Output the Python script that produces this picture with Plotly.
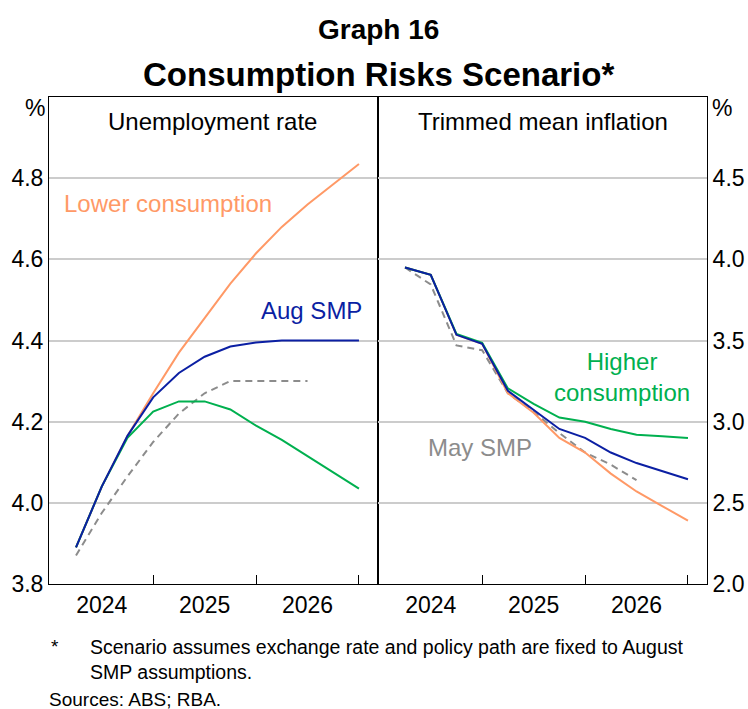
import plotly.graph_objects as go
from plotly.subplots import make_subplots

# quarters since start of 2024 (1 = Mar 2024 ... 12 = Dec 2026)
quarters = list(range(1, 13))

# Unemployment rate, %
unemp_aug_smp = [3.89, 4.04, 4.165, 4.26, 4.32, 4.36, 4.385, 4.395, 4.40, 4.40, 4.40, 4.40]
unemp_higher = [3.89, 4.04, 4.16, 4.225, 4.25, 4.25, 4.23, 4.19, 4.155, 4.115, 4.075, 4.035]
unemp_lower = [3.89, 4.04, 4.165, 4.27, 4.37, 4.455, 4.54, 4.615, 4.68, 4.735, 4.785, 4.835]
unemp_may_smp = [3.87, 3.975, 4.065, 4.15, 4.22, 4.27, 4.30, 4.30, 4.30, 4.30, None, None]

# Trimmed mean inflation, %
infl_aug_smp = [3.95, 3.905, 3.535, 3.48, 3.19, 3.075, 2.955, 2.90, 2.81, 2.745, 2.695, 2.645]
infl_higher = [3.95, 3.905, 3.54, 3.485, 3.205, 3.11, 3.025, 3.0, 2.955, 2.92, 2.91, 2.90]
infl_lower = [3.95, 3.905, 3.535, 3.48, 3.175, 3.055, 2.90, 2.81, 2.68, 2.57, 2.48, 2.39]
infl_may_smp = [3.95, 3.845, 3.47, 3.44, 3.175, 3.06, 2.93, 2.81, 2.735, 2.64, None, None]

year_labels = ['2024', '2025', '2026']
year_label_pos = [2, 6, 10]
year_bounds = [4, 8, 12]

FONT = 'Liberation Sans, Arial, sans-serif'
BLUE = '#0B1FA3'
GREEN = '#00B04F'
ORANGE = '#FF9966'
GREY = '#8C8C8C'

fig = make_subplots(rows=1, cols=2, horizontal_spacing=0)

panels = [
    (1, unemp_may_smp, unemp_lower, unemp_higher, unemp_aug_smp),
    (2, infl_may_smp, infl_lower, infl_higher, infl_aug_smp),
]
for col, may, lower, higher, aug in panels:
    fig.add_trace(go.Scatter(x=quarters, y=may, mode='lines', name='May SMP',
                             line=dict(color=GREY, width=2, dash='7px,5px')), row=1, col=col)
    fig.add_trace(go.Scatter(x=quarters, y=lower, mode='lines', name='Lower consumption',
                             line=dict(color=ORANGE, width=2)), row=1, col=col)
    fig.add_trace(go.Scatter(x=quarters, y=higher, mode='lines', name='Higher consumption',
                             line=dict(color=GREEN, width=2)), row=1, col=col)
    fig.add_trace(go.Scatter(x=quarters, y=aug, mode='lines', name='Aug SMP',
                             line=dict(color=BLUE, width=2)), row=1, col=col)

xaxis_style = dict(
    range=[-0.05, 12.74], tickvals=year_label_pos, ticktext=year_labels, ticks='',
    showgrid=False, zeroline=False, showline=True, linecolor='black', linewidth=1,
    mirror=True, tickfont=dict(size=23, color='black'), automargin=False,
    minor=dict(tickvals=year_bounds, ticks='inside', ticklen=9, tickcolor='black',
               tickwidth=1, showgrid=False),
)
fig.update_xaxes(**xaxis_style)

yaxis_style = dict(
    showgrid=True, gridcolor='#CCCCCC', gridwidth=1.5, zeroline=False, ticks='',
    showline=True, linecolor='black', linewidth=1, mirror=True,
    tickfont=dict(size=23, color='black'), automargin=False,
)
fig.update_yaxes(range=[3.8, 5.0], tickvals=[3.8, 4.0, 4.2, 4.4, 4.6, 4.8],
                 ticktext=['3.8', '4.0', '4.2', '4.4', '4.6', '4.8'], row=1, col=1, **yaxis_style)
fig.update_yaxes(range=[2.0, 5.0], tickvals=[2.0, 2.5, 3.0, 3.5, 4.0, 4.5],
                 ticktext=['2.0', '2.5', '3.0', '3.5', '4.0', '4.5'], side='right',
                 row=1, col=2, **yaxis_style)

annotations = [
    # titles
    dict(text='<b>Graph 16</b>', x=0.5, y=1.1376, font=dict(size=28)),
    dict(text='<b>Consumption Risks Scenario*</b>', x=0.5, y=1.047, font=dict(size=33)),
    # panel titles
    dict(text='Unemployment rate', x=0.249, y=0.949, font=dict(size=24)),
    dict(text='Trimmed mean inflation', x=0.751, y=0.949, font=dict(size=24)),
    # units
    dict(text='%', x=-0.021, y=0.978, font=dict(size=23)),
    dict(text='%', x=1.023, y=0.978, font=dict(size=23)),
    # footnotes
    dict(text='*', x=0.0, y=-0.128, xanchor='left', font=dict(size=19)),
    dict(text='Scenario assumes exchange rate and policy path are fixed to August<br>SMP assumptions.',
         x=0.059, y=-0.156, xanchor='left', align='left', font=dict(size=19.5)),
    dict(text='Sources: ABS; RBA.', x=-0.003, y=-0.237, xanchor='left', font=dict(size=19)),
]
for a in annotations:
    a.setdefault('xanchor', 'center')
    fig.add_annotation(xref='paper', yref='paper', yanchor='middle', showarrow=False, **a)

# series labels
series_labels = [
    dict(text='Lower consumption', x=4.58, y=4.737, xref='x', yref='y', color=ORANGE),
    dict(text='Aug SMP', x=10.14, y=4.473, xref='x', yref='y', color=BLUE),
    dict(text='Higher<br>consumption', x=9.44, y=3.276, xref='x2', yref='y2', color=GREEN),
    dict(text='May SMP', x=3.92, y=2.838, xref='x2', yref='y2', color=GREY),
]
for s in series_labels:
    fig.add_annotation(text=s['text'], x=s['x'], y=s['y'], xref=s['xref'], yref=s['yref'],
                       showarrow=False, font=dict(size=24, color=s['color']))

fig.update_layout(
    width=748, height=709,
    margin=dict(l=49, r=41, t=97, b=125),
    paper_bgcolor='white', plot_bgcolor='white',
    font=dict(family=FONT, color='black'),
    showlegend=False,
)

# drop the default page margin so the figure fills the window exactly
fig.write_html('out.html', config={'displayModeBar': False},
               post_script="document.body.style.margin='0';document.body.style.overflow='hidden';")
